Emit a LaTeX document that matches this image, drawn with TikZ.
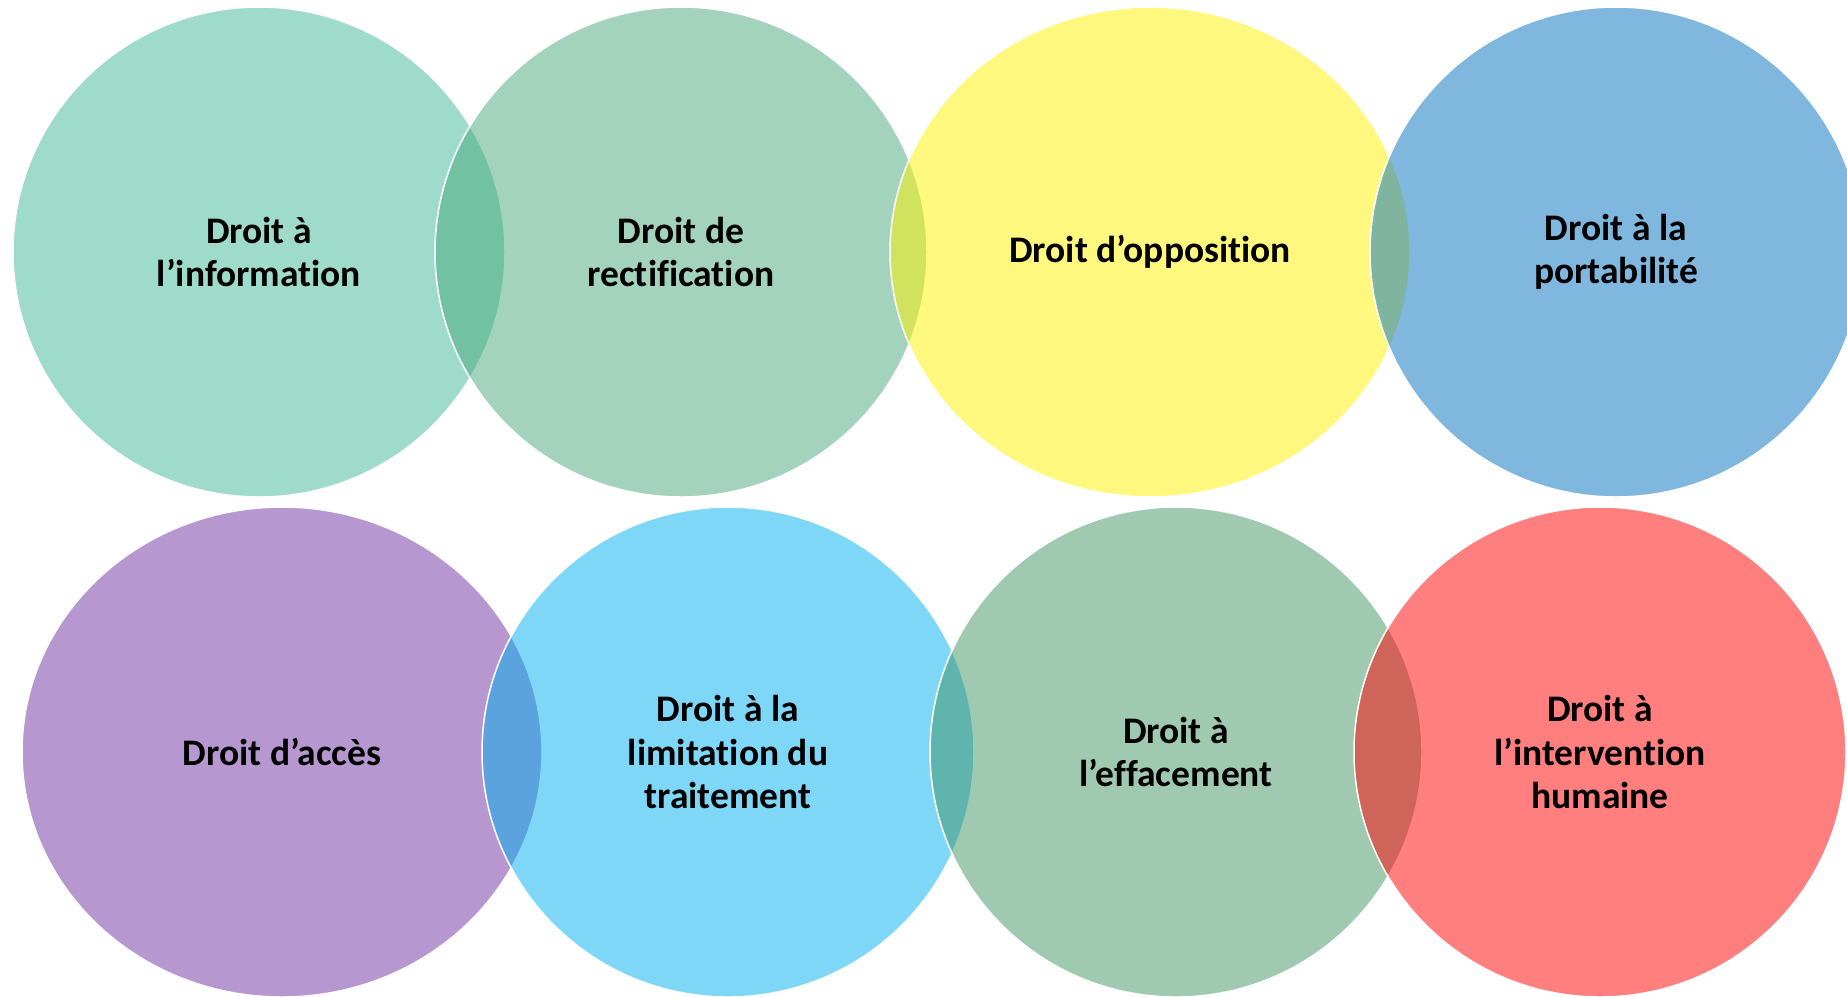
\documentclass[tikz,border=0pt]{standalone}
\usepackage{fontspec}
\setmainfont[Ligatures=NoCommon]{Carlito}
\usepackage{xcolor}
\usepackage{tikz}
\usetikzlibrary{shapes}

\definecolor{tealgreen}{HTML}{3FB797}
\definecolor{sagegreen}{HTML}{47A77B}
\definecolor{mossgreen}{HTML}{419365}
\definecolor{officeblue}{HTML}{0070C0}
\definecolor{officepurple}{HTML}{7030A0}
\definecolor{skyblue}{HTML}{00B0F0}

\begin{document}
\begin{tikzpicture}[x=1pt, y=-1pt, align=center,
	right node/.style={ellipse, draw=white, line width=1.5pt, fill opacity=0.5, draw opacity=1, text opacity=1,
		inner sep=0pt, minimum width=492pt, minimum height=490pt, font=\fontsize{37.5}{43.5}\selectfont\bfseries},
	wide node/.style={right node, minimum width=520pt},
]
\clip (0, 0) rectangle (1847, 996);
\useasboundingbox (0, 0) rectangle (1847, 996);
% top row
\node [right node, fill=tealgreen] (info) at (259, 252) {Droit à\\l’information};
\node [right node, fill=sagegreen] (rect) at (681, 252) {Droit de\\rectification};
\node [wide node, fill=yellow] (oppo) at (1150, 252) {Droit d’opposition};
\node [right node, fill=officeblue] (port) at (1616, 252) {Droit à la\\portabilité};
% bottom row
\node [wide node, fill=officepurple] (acces) at (282, 752) {Droit d’accès};
\node [right node, fill=skyblue] (limit) at (728, 752) {Droit à la\\limitation du\\traitement};
\node [right node, fill=mossgreen] (effac) at (1176, 752) {Droit à\\l’effacement};
\node [right node, fill=red] (humain) at (1600, 752) {Droit à\\l’intervention\\humaine};
\end{tikzpicture}
\end{document}
